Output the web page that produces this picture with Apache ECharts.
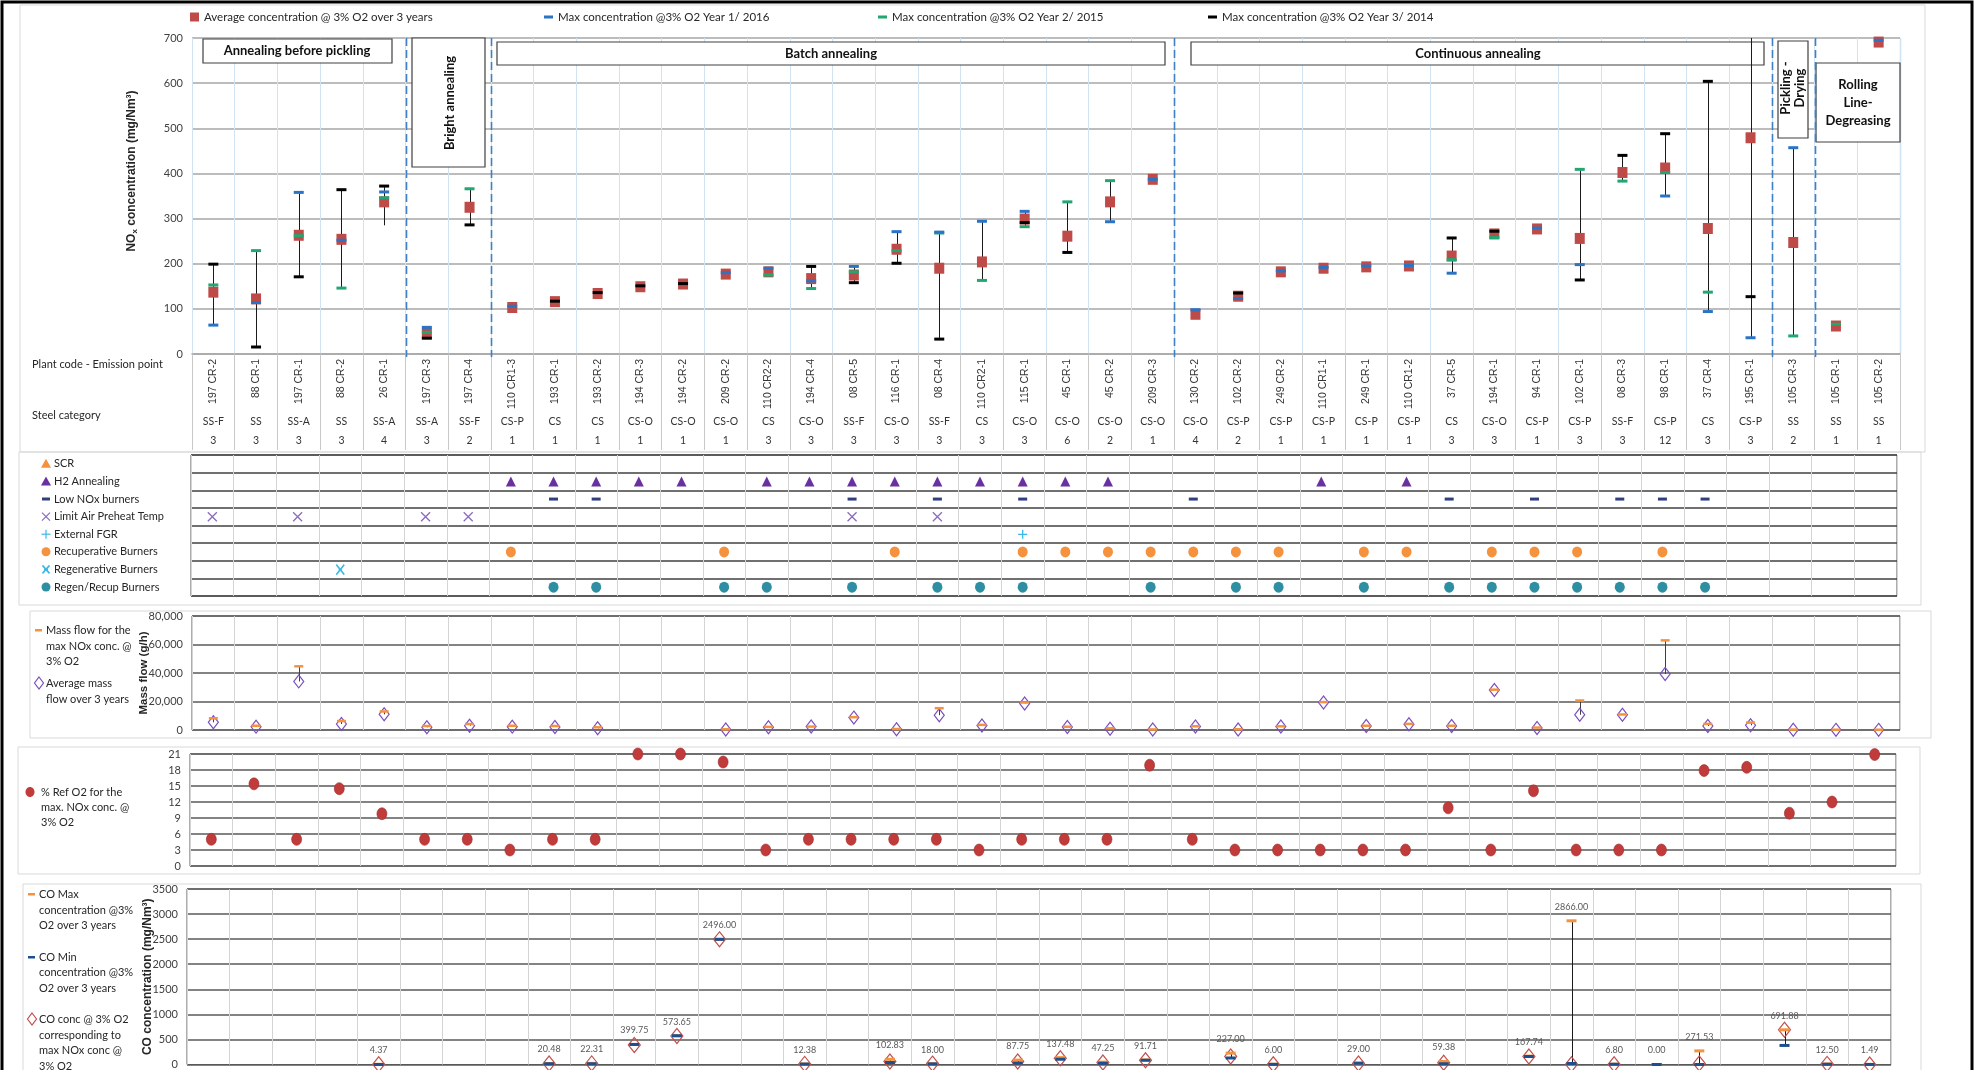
<!DOCTYPE html>
<html><head><meta charset="utf-8">
<script src="https://cdn.jsdelivr.net/npm/echarts@6/dist/echarts.min.js"></script>
<style>html,body{margin:0;padding:0;background:#fff;}#c{width:1977px;height:1070px;}</style>
</head><body><div id="c"></div><script>
// ---------- DATA ----------
const plantCodes = ['197 CR-2','88 CR-1','197 CR-1','88 CR-2','26 CR-1','197 CR-3','197 CR-4','110 CR1-3','193 CR-1','193 CR-2','194 CR-3','194 CR-2','209 CR-2','110 CR2-2','194 CR-4','08 CR-5','116 CR-1','08 CR-4','110 CR2-1','115 CR-1','45 CR-1','45 CR-2','209 CR-3','130 CR-2','102 CR-2','249 CR-2','110 CR1-1','249 CR-1','110 CR1-2','37 CR-5','194 CR-1','94 CR-1','102 CR-1','08 CR-3','98 CR-1','37 CR-4','195 CR-1','105 CR-3','105 CR-1','105 CR-2'];
const steelCats = ['SS-F','SS','SS-A','SS','SS-A','SS-A','SS-F','CS-P','CS','CS','CS-O','CS-O','CS-O','CS','CS-O','SS-F','CS-O','SS-F','CS','CS-O','CS-O','CS-O','CS-O','CS-O','CS-P','CS-P','CS-P','CS-P','CS-P','CS','CS-O','CS-P','CS-P','SS-F','CS-P','CS','CS-P','SS','SS','SS'];
const counts = ['3','3','3','3','4','3','2','1','1','1','1','1','1','3','3','3','3','3','3','3','6','2','1','4','2','1','1','1','1','3','3','1','3','3','12','3','3','2','1','1'];
const groupBreaks = [5, 7, 23, 37, 38];

const noxAvg = [137,122,263,254,337,46,325,103,116,134,149,155,177,182,167,175,232,190,204,299,261,337,387,88,128,182,190,193,195,217,266,277,256,402,412,278,479,247,62,691];
const noxMaxY1 = [64,114,358,252,359,59,null,106,null,null,null,null,180,190,162,194,271,270,294,316,null,293,387,98,123,184,192,195,196,179,null,279,198,null,350,94,36,457,null,695];
const noxMaxY2 = [153,229,262,146,346,48,366,null,null,null,null,null,null,175,145,182,229,268,163,282,337,384,null,null,null,null,null,null,null,209,258,null,409,383,402,137,null,40,66,null];
const noxMaxY3 = [199,15.5,171,364,372,35,286,null,117,136,151,156,null,null,194,158,201,33,null,291,225,null,null,null,135,null,null,null,null,257,272,null,164,440,488,604,127,null,null,null];
const noxLow  = [64,15.5,171,146,285,35,286,null,null,null,null,null,null,175,145,158,201,33,163,282,225,293,null,null,123,null,null,null,null,179,258,null,164,383,350,94,36,40,null,null];
const noxHigh = [199,229,358,364,372,59,366,null,null,null,null,null,null,190,194,194,271,270,294,316,337,384,null,null,135,null,null,null,null,257,272,null,409,440,488,604,760,457,null,null];

const techRows = ['SCR','H2 Annealing','Low NOx burners','Limit Air Preheat Temp','External FGR','Recuperative Burners','Regenerative Burners','Regen/Recup Burners'];
const scrCats = [];
const h2Cats = [8,9,10,11,12,14,15,16,17,18,19,20,21,22,27,29];
const lowNoxCats = [9,10,16,18,20,24,30,32,34,35,36];
const limitAirCats = [1,3,6,7,16,18];
const extFgrCats = [20];
const recupCats = [8,13,17,20,21,22,23,24,25,26,28,29,31,32,33,35];
const regenCats = [4];
const regenRecupCats = [9,10,13,14,16,18,19,20,23,25,26,28,30,31,32,33,34,35,36];

const massAvg = [5400,2350,34100,4200,11000,1900,3000,2350,2100,1200,null,null,400,1900,2400,8700,500,10400,3100,18600,2100,900,300,2400,300,2400,19300,2800,4000,2800,28100,1400,10700,10700,39300,2800,3300,200,100,100];
const massMax = [8200,3000,44700,6300,13000,2800,4200,3000,2800,1900,null,null,500,2200,2400,9000,700,15300,3600,19300,2300,1200,400,2600,500,2600,19600,3000,4300,3000,28300,1700,20700,10900,62900,4300,5200,300,200,200];

const o2Ref = [5,15.4,5,14.5,9.8,5,5,3,5,5,21,21,19.5,3,5,5,5,5,3,5,5,5,18.9,5,3,3,3,3,3,10.9,3,14.1,3,3,3,17.9,18.5,9.9,12,20.9];

const coMax   = [null,null,null,null,4.37,null,null,null,20.48,22.31,399.75,573.65,2496,null,12.38,null,102.83,18.00,null,87.75,137.48,47.25,91.71,null,227.00,6.00,null,29.00,null,59.38,null,167.74,2866,6.80,0,271.53,null,691.88,12.50,1.49];
const coAtMax = [null,null,null,null,4.37,null,null,null,20.48,22.31,390,568,2496,null,12.38,null,60,18,null,60,125,40,85,null,160,6,null,20,null,35,null,160,5,6.8,null,20,null,691.88,12.5,1.49];
const coMin   = [null,null,null,null,0,null,null,null,15,15,399.75,573.65,2496,null,8,null,40,12,null,30,105,25,85,null,130,3,null,25,null,15,null,160,20,5,0,0,null,380,5,1];

// ---------- HELPERS ----------
const F = 'Lato, "Liberation Sans", sans-serif';
const AR = '"Liberation Sans", Arial, sans-serif';
const pts = arr => arr.map((v, i) => v == null ? null : [i, v]).filter(Boolean);
const ranges = (lo, hi) => lo.map((v, i) => (v == null || hi[i] == null) ? null : [i, v, hi[i]]).filter(Boolean);
const techPts = (cats, row) => cats.map(c => [c - 1, row]);

function rangeRender(color, w) {
  return function (params, api) {
    const cs = params.coordSys;
    const x = Math.round(api.coord([api.value(0), 0])[0]) + 0.5;
    let ya = api.coord([api.value(0), api.value(1)])[1];
    let yb = api.coord([api.value(0), api.value(2)])[1];
    const top = cs.y, bot = cs.y + cs.height;
    ya = Math.min(bot, Math.max(top, ya));
    yb = Math.min(bot, Math.max(top, yb));
    return { type: 'line', shape: { x1: x, y1: ya, x2: x, y2: yb }, style: { stroke: color, lineWidth: w } };
  };
}
function sepRender(params, api) {
  const cs = params.coordSys;
  const c = api.coord([api.value(0), 0]);
  const bw = api.size([1, 0])[0];
  const x = Math.round(c[0] + bw / 2) + 0.5;
  return { type: 'line', shape: { x1: x, y1: cs.y, x2: x, y2: cs.y + cs.height + 3 }, style: { stroke: '#3f7fc6', lineWidth: 1.6, lineDash: [8, 4] } };
}
function catAxis(grid, color) {
  return { gridIndex: grid, type: 'category', data: plantCodes, boundaryGap: true,
    axisLine: { show: false }, axisTick: { show: false }, axisLabel: { show: false },
    splitLine: { show: true, interval: 0, lineStyle: { color: color, width: 1 } } };
}
const tickLbl = { fontSize: 11, color: '#404040', fontFamily: F, margin: 9, formatter: v => String(v) };
const darkSplit = { show: true, lineStyle: { color: '#5a5a5a', width: 1.5 } };

// ---------- GRAPHIC ----------
const G = [];
function txt(x, y, s, o) {
  G.push(Object.assign({ type: 'text', x: x, y: y, z: 5,
    style: Object.assign({ text: s, fill: '#262626', font: '11px ' + F, textAlign: 'left', align: 'left', textVerticalAlign: 'middle', verticalAlign: 'middle' }, (o && o.style) || {}) },
    o && o.rotation ? { rotation: o.rotation } : {}));
}
function rect(x, y, w, h, stroke, fill, z, lw) {
  G.push({ type: 'rect', z: z, shape: { x: x, y: y, width: w, height: h }, style: { fill: fill, stroke: stroke, lineWidth: lw || 1 } });
}
function line(x1, y1, x2, y2, c, w) {
  G.push({ type: 'line', z: 5, shape: { x1: x1, y1: y1, x2: x2, y2: y2 }, style: { stroke: c, lineWidth: w || 1.2 } });
}
function tri(x, y, c) { G.push({ type: 'polygon', z: 5, shape: { points: [[x, y - 5], [x + 5, y + 4], [x - 5, y + 4]] }, style: { fill: c } }); }
function dot(x, y, r, c) { G.push({ type: 'circle', z: 5, shape: { cx: x, cy: y, r: r }, style: { fill: c } }); }
function dia(x, y, c) { G.push({ type: 'polygon', z: 5, shape: { points: [[x, y - 6], [x + 4.5, y], [x, y + 6], [x - 4.5, y]] }, style: { fill: '#fff', stroke: c, lineWidth: 1.2 } }); }

// page & panel frames
G.push({ type: 'polyline', z: 6, shape: { points: [[2, 1075], [2, 2], [1972, 2], [1972, 1075]] }, style: { stroke: '#000', lineWidth: 3, fill: null } });
rect(20, 5, 1905, 447, '#d9d9d9', 'none', 0);
rect(19, 452, 1902, 153, '#d9d9d9', 'none', 0);
rect(30, 611, 1901, 127, '#d9d9d9', 'none', 0);
rect(18, 747, 1902, 127, '#d9d9d9', 'none', 0);
rect(23, 884, 1898, 200, '#d9d9d9', 'none', 0);
G.push({ type: 'line', z: 0, shape: { x1: 1900.5, y1: 38, x2: 1900.5, y2: 354 }, style: { stroke: '#a6a6a6', lineWidth: 1.2 } });

// annotation boxes
const boxFont = 'bold 13px ' + F;
rect(203, 39, 189, 24, '#404040', '#fff', 1, 1.2);
txt(297, 51, 'Annealing before pickling', { style: { font: boxFont, textAlign: 'center', align: 'center', fill: '#111' } });
rect(412, 38, 73, 129, '#404040', '#fff', 1, 1.2);
txt(450, 103, 'Bright annealing', { rotation: Math.PI / 2, style: { font: boxFont, textAlign: 'center', align: 'center', fill: '#111' } });
rect(497, 42, 668, 23, '#404040', '#fff', 1, 1.2);
txt(831, 54, 'Batch annealing', { style: { font: boxFont, textAlign: 'center', align: 'center', fill: '#111' } });
rect(1191, 42, 573, 23, '#404040', '#fff', 1, 1.2);
txt(1478, 54, 'Continuous annealing', { style: { font: boxFont, textAlign: 'center', align: 'center', fill: '#111' } });
rect(1778, 41, 30, 97, '#404040', '#fff', 1, 1.2);
txt(1793, 88, 'Pickling -\nDrying', { rotation: Math.PI / 2, style: { font: boxFont, textAlign: 'center', align: 'center', fill: '#111', lineHeight: 14 } });
rect(1816, 63, 84, 79, '#404040', '#fff', 1, 1.2);
txt(1858, 103, 'Rolling\nLine-\nDegreasing', { style: { font: boxFont, textAlign: 'center', align: 'center', fill: '#111', lineHeight: 18 } });

// row labels for category table
txt(32, 364, 'Plant code - Emission point');
txt(32, 415, 'Steel category');

// technique legend
const rowY = r => 455 + (r + 0.5) * 17.6;
tri(46, rowY(0), '#f5923e'); txt(54, rowY(0), 'SCR');
tri(46, rowY(1), '#6a2fa0'); txt(54, rowY(1), 'H2 Annealing');
G.push({ type: 'rect', z: 5, shape: { x: 42, y: rowY(2) - 1.5, width: 8, height: 3 }, style: { fill: '#2f3f7f' } }); txt(54, rowY(2), 'Low NOx burners');
line(42, rowY(3) - 4, 50, rowY(3) + 4, '#8a6bbd'); line(50, rowY(3) - 4, 42, rowY(3) + 4, '#8a6bbd'); txt(54, rowY(3), 'Limit Air Preheat Temp');
line(46, rowY(4) - 4.5, 46, rowY(4) + 4.5, '#3cb8e6'); line(41.5, rowY(4), 50.5, rowY(4), '#3cb8e6'); txt(54, rowY(4), 'External FGR');
dot(46, rowY(5), 4.5, '#f5923e'); txt(54, rowY(5), 'Recuperative Burners');
line(42.5, rowY(6) - 4, 49.5, rowY(6) + 4, '#3cb8e6', 1.6); line(49.5, rowY(6) - 4, 42.5, rowY(6) + 4, '#3cb8e6', 1.6); line(44, rowY(6), 48, rowY(6), '#3cb8e6', 1.6); txt(54, rowY(6), 'Regenerative Burners');
dot(46, rowY(7), 4.5, '#2e8fa3'); txt(54, rowY(7), 'Regen/Recup Burners');

// mass flow legend
G.push({ type: 'rect', z: 5, shape: { x: 35, y: 629, width: 7, height: 2.5 }, style: { fill: '#f5923e' } });
txt(46, 630, 'Mass flow for the'); txt(46, 646, 'max NOx conc. @'); txt(46, 661, '3% O2');
dia(39, 683, '#7a4fbf'); txt(46, 683, 'Average mass'); txt(46, 699, 'flow over 3 years');

// O2 legend
G.push({ type: 'ellipse', z: 5, shape: { cx: 30, cy: 792, rx: 4.5, ry: 5 }, style: { fill: '#c23b3b' } });
txt(41, 792, '% Ref O2 for the'); txt(41, 807, 'max. NOx conc. @'); txt(41, 822, '3% O2');

// CO legend
G.push({ type: 'rect', z: 5, shape: { x: 28, y: 893, width: 7, height: 2.5 }, style: { fill: '#f5923e' } });
txt(39, 894, 'CO Max'); txt(39, 910, 'concentration @3%'); txt(39, 925, 'O2 over 3 years');
G.push({ type: 'rect', z: 5, shape: { x: 28, y: 956, width: 7, height: 2.5 }, style: { fill: '#1f4e8c' } });
txt(39, 957, 'CO Min'); txt(39, 972, 'concentration @3%'); txt(39, 988, 'O2 over 3 years');
dia(32, 1019, '#c0504d');
txt(39, 1019, 'CO conc @ 3% O2'); txt(39, 1035, 'corresponding to'); txt(39, 1050, 'max NOx conc @'); txt(39, 1066, '3% O2');

// ---------- CHART ----------
const chart = echarts.init(document.getElementById('c'), null, { renderer: 'canvas', width: 1977, height: 1070 });
const legTxt = { fontSize: 11.5, color: '#262626', fontFamily: F };
const N_AVG = 'Average concentration @ 3% O2 over 3 years';
const N_Y1 = 'Max concentration @3% O2 Year 1/ 2016';
const N_Y2 = 'Max concentration @3% O2 Year 2/ 2015';
const N_Y3 = 'Max concentration @3% O2 Year 3/ 2014';
const titleStyle = { fontFamily: AR, fontWeight: 'bold', fontSize: 12, color: '#262626' };

const option = {
  animation: false,
  backgroundColor: '#fff',
  textStyle: { fontFamily: F },
  legend: [
    { data: [N_AVG], left: 190, top: 11, itemWidth: 9, itemHeight: 9, itemGap: 4, selectedMode: false, textStyle: legTxt, padding: 0 },
    { data: [N_Y1], left: 544, top: 11, itemWidth: 9, itemHeight: 3, selectedMode: false, textStyle: legTxt, padding: 0 },
    { data: [N_Y2], left: 878, top: 11, itemWidth: 9, itemHeight: 3, selectedMode: false, textStyle: legTxt, padding: 0 },
    { data: [N_Y3], left: 1208, top: 11, itemWidth: 9, itemHeight: 3, selectedMode: false, textStyle: legTxt, padding: 0 }
  ],
  grid: [
    { left: 192, top: 38, width: 1708, height: 316, containLabel: false },
    { left: 191, top: 455, width: 1706, height: 141, show: true, borderColor: '#5a5a5a', borderWidth: 1 },
    { left: 192, top: 616, width: 1708, height: 114, show: true, borderColor: '#5a5a5a', borderWidth: 1 },
    { left: 190, top: 754, width: 1706, height: 112, show: true, borderColor: '#5a5a5a', borderWidth: 1 },
    { left: 187, top: 889, width: 1704, height: 177, show: true, borderColor: '#5a5a5a', borderWidth: 1 }
  ],
  xAxis: [
    { gridIndex: 0, type: 'category', data: plantCodes, boundaryGap: true, position: 'bottom',
      axisLine: { show: true, lineStyle: { color: '#a6a6a6', width: 1.5 } },
      axisTick: { show: true, interval: 0, length: 96, lineStyle: { color: '#c8c8c8' } },
      axisLabel: { interval: 0, rotate: 90, fontSize: 10.5, margin: 5, color: '#333', fontFamily: AR },
      splitLine: { show: true, interval: 0, lineStyle: { color: '#cfe3f3', width: 1 } } },
    { gridIndex: 0, type: 'category', data: steelCats, position: 'bottom', offset: 62,
      axisLine: { show: false }, axisTick: { show: false },
      axisLabel: { interval: 0, fontSize: 10.5, margin: 0, color: '#333', fontFamily: F } },
    { gridIndex: 0, type: 'category', data: counts, position: 'bottom', offset: 81,
      axisLine: { show: false }, axisTick: { show: false },
      axisLabel: { interval: 0, fontSize: 10.5, margin: 0, color: '#333', fontFamily: F } },
    catAxis(1, '#d4d4d4'),
    catAxis(2, '#d4d4d4'),
    catAxis(3, '#d4d4d4'),
    catAxis(4, '#d4d4d4')
  ],
  yAxis: [
    { gridIndex: 0, type: 'value', min: 0, max: 700, interval: 100,
      axisLine: { show: false }, axisTick: { show: false }, axisLabel: tickLbl,
      splitLine: { show: true, lineStyle: { color: '#a6a6a6', width: 1.5 } },
      name: 'NO{s|x} concentration (mg/Nm³)', nameLocation: 'middle', nameGap: 53, nameMoveOverlap: false,
      nameTextStyle: Object.assign({}, titleStyle, { padding: [0, 0, 0, 50],
        rich: { s: { fontSize: 8, fontWeight: 'bold', fontFamily: AR, padding: [6, 0, 0, 0], color: '#262626' } } }) },
    { gridIndex: 1, type: 'category', data: techRows, inverse: true,
      axisLine: { show: false }, axisTick: { show: false }, axisLabel: { show: false },
      splitLine: { show: true, interval: 0, lineStyle: { color: '#404040', width: 1.5 } } },
    { gridIndex: 2, type: 'value', min: 0, max: 80000, interval: 20000,
      axisLine: { show: false }, axisTick: { show: false },
      axisLabel: Object.assign({}, tickLbl, { formatter: v => v.toLocaleString('en-US') }),
      splitLine: darkSplit,
      name: 'Mass flow (g/h)', nameLocation: 'middle', nameGap: 42, nameMoveOverlap: false,
      nameTextStyle: Object.assign({}, titleStyle, { fontSize: 11.5 }) },
    { gridIndex: 3, type: 'value', min: 0, max: 21, interval: 3,
      axisLine: { show: false }, axisTick: { show: false }, axisLabel: tickLbl, splitLine: darkSplit },
    { gridIndex: 4, type: 'value', min: 0, max: 3500, interval: 500,
      axisLine: { show: false }, axisTick: { show: false }, axisLabel: tickLbl, splitLine: darkSplit,
      name: 'CO concentration (mg/Nm³)', nameLocation: 'middle', nameGap: 33, nameMoveOverlap: false, nameTextStyle: titleStyle }
  ],
  series: [
    // ---- NOx panel
    { type: 'custom', xAxisIndex: 0, yAxisIndex: 0, z: 2, renderItem: rangeRender('#1a1a1a', 1), encode: { x: 0, y: [1, 2] }, data: ranges(noxLow, noxHigh), silent: true },
    { type: 'custom', xAxisIndex: 0, yAxisIndex: 0, z: 2, renderItem: sepRender, encode: { x: 0, y: 1 }, data: groupBreaks.map(b => [b - 1, 0]), silent: true },
    { name: N_AVG, type: 'scatter', xAxisIndex: 0, yAxisIndex: 0, z: 3, symbol: 'rect', symbolSize: [10, 11], itemStyle: { color: '#be4b48', opacity: 1 }, data: pts(noxAvg) },
    { name: N_Y3, type: 'scatter', xAxisIndex: 0, yAxisIndex: 0, z: 4, symbol: 'rect', symbolSize: [10, 3], itemStyle: { color: '#000', opacity: 1 }, data: pts(noxMaxY3) },
    { name: N_Y2, type: 'scatter', xAxisIndex: 0, yAxisIndex: 0, z: 4, symbol: 'rect', symbolSize: [10, 3], itemStyle: { color: '#22a672', opacity: 1 }, data: pts(noxMaxY2) },
    { name: N_Y1, type: 'scatter', xAxisIndex: 0, yAxisIndex: 0, z: 4, symbol: 'rect', symbolSize: [10, 3], itemStyle: { color: '#2a73c5', opacity: 1 }, data: pts(noxMaxY1) },
    // ---- techniques panel
    { name: 'SCR', type: 'scatter', xAxisIndex: 3, yAxisIndex: 1, symbol: 'triangle', symbolSize: 10, itemStyle: { color: '#f5923e', opacity: 1 }, data: techPts(scrCats, 'SCR') },
    { name: 'H2 Annealing', type: 'scatter', xAxisIndex: 3, yAxisIndex: 1, symbol: 'triangle', symbolSize: [10, 10], itemStyle: { color: '#6a2fa0', opacity: 1 }, data: techPts(h2Cats, 'H2 Annealing') },
    { name: 'Low NOx burners', type: 'scatter', xAxisIndex: 3, yAxisIndex: 1, symbol: 'rect', symbolSize: [9, 3], itemStyle: { color: '#2f3f7f', opacity: 1 }, data: techPts(lowNoxCats, 'Low NOx burners') },
    { name: 'Limit Air Preheat Temp', type: 'scatter', xAxisIndex: 3, yAxisIndex: 1, symbol: 'path://M0,0L10,10M10,0L0,10', symbolSize: 9, itemStyle: { color: 'rgba(0,0,0,0)', borderColor: '#8a6bbd', borderWidth: 1.3, opacity: 1 }, data: techPts(limitAirCats, 'Limit Air Preheat Temp') },
    { name: 'External FGR', type: 'scatter', xAxisIndex: 3, yAxisIndex: 1, symbol: 'path://M5,0L5,10M0,5L10,5', symbolSize: 9, itemStyle: { color: 'rgba(0,0,0,0)', borderColor: '#3cb8e6', borderWidth: 1.3, opacity: 1 }, data: techPts(extFgrCats, 'External FGR') },
    { name: 'Recuperative Burners', type: 'scatter', xAxisIndex: 3, yAxisIndex: 1, symbol: 'circle', symbolSize: [10, 11], itemStyle: { color: '#f5923e', opacity: 1 }, data: techPts(recupCats, 'Recuperative Burners') },
    { name: 'Regenerative Burners', type: 'scatter', xAxisIndex: 3, yAxisIndex: 1, symbol: 'path://M0,0L10,10M10,0L0,10M3,5L7,5', symbolSize: [8, 10], itemStyle: { color: 'rgba(0,0,0,0)', borderColor: '#3cb8e6', borderWidth: 1.7, opacity: 1 }, data: techPts(regenCats, 'Regenerative Burners') },
    { name: 'Regen/Recup Burners', type: 'scatter', xAxisIndex: 3, yAxisIndex: 1, symbol: 'circle', symbolSize: [10, 11], itemStyle: { color: '#2e8fa3', opacity: 1 }, data: techPts(regenRecupCats, 'Regen/Recup Burners') },
    // ---- mass flow panel
    { type: 'custom', xAxisIndex: 4, yAxisIndex: 2, z: 2, renderItem: rangeRender('#404040', 1), encode: { x: 0, y: [1, 2] }, data: ranges(massAvg, massMax), silent: true },
    { name: 'Average mass flow over 3 years', type: 'scatter', xAxisIndex: 4, yAxisIndex: 2, z: 3, symbol: 'diamond', symbolSize: [10, 13], itemStyle: { color: 'rgba(255,255,255,0)', borderColor: '#7a4fbf', borderWidth: 1.2, opacity: 1 }, data: pts(massAvg) },
    { name: 'Mass flow for the max NOx conc. @ 3% O2', type: 'scatter', xAxisIndex: 4, yAxisIndex: 2, z: 4, symbol: 'rect', symbolSize: [9, 2.5], itemStyle: { color: '#f5923e', opacity: 1 }, data: pts(massMax) },
    // ---- O2 panel
    { name: '% Ref O2 for the max. NOx conc. @ 3% O2', type: 'scatter', xAxisIndex: 5, yAxisIndex: 3, symbol: 'circle', symbolSize: [10, 12], itemStyle: { color: '#c23b3b', borderColor: '#9c2a2a', borderWidth: 0.6, opacity: 1 }, data: pts(o2Ref) },
    // ---- CO panel
    { type: 'custom', xAxisIndex: 6, yAxisIndex: 4, z: 2, renderItem: rangeRender('#1a1a1a', 1), encode: { x: 0, y: [1, 2] }, data: ranges(coMin, coMax), silent: true },
    { name: 'CO conc @ 3% O2 corresponding to max NOx conc @ 3% O2', type: 'scatter', xAxisIndex: 6, yAxisIndex: 4, z: 3, symbol: 'diamond', symbolSize: [12, 15], itemStyle: { color: 'rgba(255,255,255,0)', borderColor: '#c0504d', borderWidth: 1.2, opacity: 1 }, data: pts(coAtMax) },
    { name: 'CO Max concentration @3% O2 over 3 years', type: 'scatter', xAxisIndex: 6, yAxisIndex: 4, z: 4, symbol: 'rect', symbolSize: [10, 3], itemStyle: { color: '#f5923e', opacity: 1 },
      label: { show: true, position: 'top', distance: 8, fontSize: 9, color: '#595959', fontFamily: F, formatter: p => p.value[1].toFixed(2) },
      data: pts(coMax) },
    { name: 'CO Min concentration @3% O2 over 3 years', type: 'scatter', xAxisIndex: 6, yAxisIndex: 4, z: 5, symbol: 'rect', symbolSize: [10, 3], itemStyle: { color: '#1f4e8c', opacity: 1 }, data: pts(coMin) }
  ],
  graphic: { elements: G }
};
chart.setOption(option);
</script></body></html>
